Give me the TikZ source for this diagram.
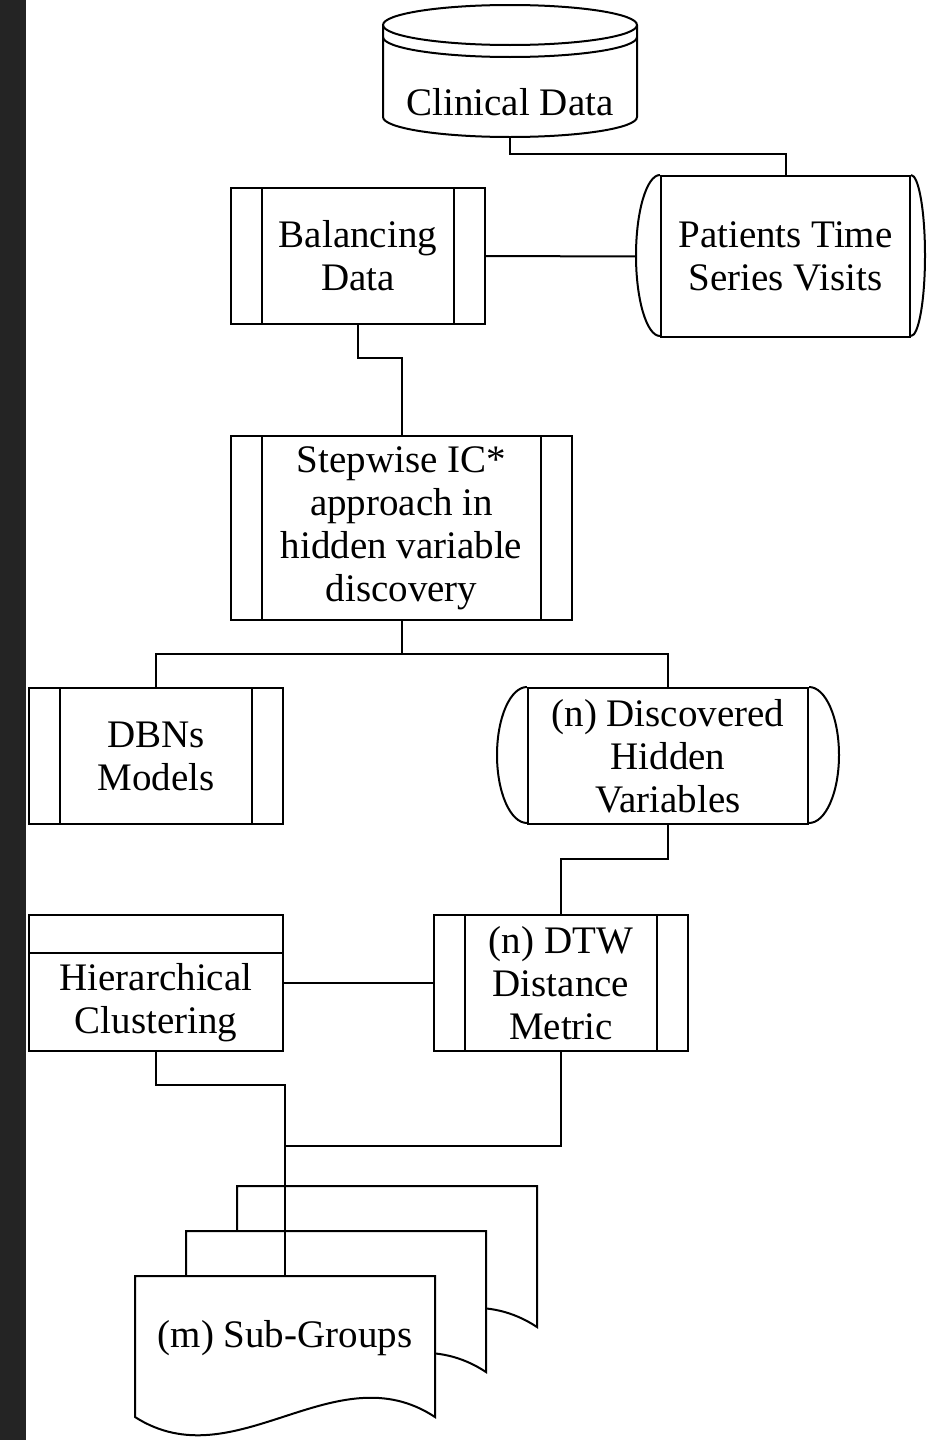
\documentclass[tikz,border=0pt]{standalone}
\usepackage{fontspec}
\setmainfont{Liberation Serif}
\newcommand\chartfont{\fontsize{19.5pt}{21.5pt}\selectfont}
\begin{document}
\begin{tikzpicture}[x=0.5pt,y=-0.5pt,
  every node/.style={font=\chartfont, align=center, inner sep=0pt},
  ln/.style={line width=1pt, line join=miter},
  box/.style={draw, ln, fill=white, minimum width=127pt, minimum height=68pt},
  procbox/.style={box, path picture={
      \draw[ln] ([xshift=15.5pt]path picture bounding box.north west) -- ([xshift=15.5pt]path picture bounding box.south west);
      \draw[ln] ([xshift=-15.5pt]path picture bounding box.north east) -- ([xshift=-15.5pt]path picture bounding box.south east);}},
  storebox/.style={box, path picture={
      \draw[ln] ([yshift=-19pt]path picture bounding box.north west) -- ([yshift=-19pt]path picture bounding box.north east);}},
  pics/docpage/.style={code={
      \draw[ln, fill=white] (0,0) -- (300,0) -- (300,141)
        .. controls (200,75) and (100,205) .. (0,141) -- cycle;}}
]
% canvas and dark left margin
\fill[white] (0,0) rectangle (927,1440);
\fill[black!86] (0,0) rectangle (26,1440);
\useasboundingbox (0,0) rectangle (927,1440);

% database cylinder
\draw[ln, fill=white] (383,25) -- (383,117)
  arc[start angle=180, end angle=360, x radius=63.5pt, y radius=10pt] -- (637,25);
\draw[ln] (510,25) ellipse [x radius=63.5pt, y radius=10pt];
\draw[ln] (383,37) arc[start angle=180, end angle=360, x radius=63.5pt, y radius=10pt];
\node[minimum width=127pt, minimum height=35pt] (cd) at (510,102) {Clinical Data};

% stored data: patient visits
\node[box, minimum width=124.5pt, minimum height=80.5pt] (pts) at (785.5,256.5) {Patients Time\\Series Visits};
\draw[ln] (pts.north west) arc[start angle=90, end angle=270, x radius=12pt, y radius=40.25pt];
\draw[ln] (pts.north east) arc[start angle=90, end angle=-90, x radius=7pt, y radius=40.25pt];

% process boxes
\node[procbox] (bal) at (358,256) {Balancing\\Data};
\node[procbox, minimum width=170.5pt, minimum height=92pt] (sw) at (401.5,528)
  {Stepwise IC*\\approach in\\hidden variable\\discovery};
\node[procbox] (dbn) at (156,756) {DBNs\\Models};
\node[procbox] (dtw) at (561,983) {(n) DTW\\Distance\\Metric};

% stored data: hidden variables
\node[box, minimum width=140pt, minimum height=68pt] (hv) at (668,756) {(n) Discovered\\Hidden\\Variables};
\draw[ln] (hv.north west) arc[start angle=90, end angle=270, x radius=15pt, y radius=34pt];
\draw[ln] (hv.north east) arc[start angle=90, end angle=-90, x radius=15pt, y radius=34pt];

% internal storage
\node[storebox] (hc) at (156,983) {};
\node (hctext) at (156,1003) {Hierarchical\\Clustering};

% multiple documents
\pic at (237,1186) {docpage};
\pic at (186,1231) {docpage};
\pic at (135,1276) {docpage};
\node[minimum width=150pt, minimum height=62pt] (sg) at (285,1338) {(m) Sub-Groups};

% connectors
\draw[ln] (cd.south) -- ++(0,17) -| (pts.north);
\draw[ln] (bal.east) -- ([xshift=-12pt]pts.west);
\draw[ln] (bal.south) -- ++(0,33) -| (sw.north);
\draw[ln] (sw.south) -- ++(0,33) coordinate (swj);
\draw[ln] (dbn.north) |- (swj) -| (hv.north);
\draw[ln] (hv.south) -- ++(0,34) -| (dtw.north);
\draw[ln] (hc.east) -- (dtw.west);
\draw[ln] (hc.south) -- ++(0,33) -| (sg.north);
\draw[ln] (dtw.south) -- ++(0,94) -| (sg.north);
\end{tikzpicture}
\end{document}
